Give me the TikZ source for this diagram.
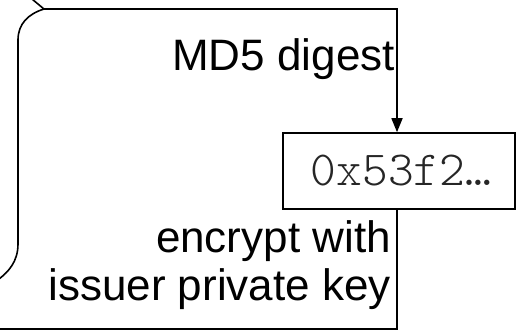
\documentclass[tikz,border=0pt]{standalone}
\usepackage{fontspec}
\setmainfont{Liberation Sans}
\newfontfamily\codefont{Latin Modern Mono Light}
\usetikzlibrary{arrows.meta}
\begin{document}
\begin{tikzpicture}[x=1pt,y=-1pt,
  wire/.style={draw=black,line width=1.6pt},
  label/.style={font=\fontsize{44}{48}\selectfont,inner sep=0pt},
  hashbox/.style={draw=black,line width=1.6pt,minimum width=232pt,minimum height=76pt,inner sep=0pt},
  code/.style={font=\codefont\fontsize{49}{52}\selectfont,text=black!85,inner sep=0pt}]
  \useasboundingbox (0,0) rectangle (518,335);

  % digest value box
  \node[hashbox] (hash) at (399,171) {};
  \node[code,anchor=base] (hashtext) at (401,185) {0x53f2…};

  % labels
  \node[label,anchor=base east] (md5) at (395,70) {MD5 digest};
  \node[label,anchor=base east] (enc1) at (391,252) {encrypt with};
  \node[label,anchor=base east] (enc2) at (391,300) {issuer private key};

  % brace-shaped left bracket
  \coordinate (bracetop) at (32,-1);
  \coordinate (bracetip) at (44,9);
  \coordinate (braceup) at (18,40);
  \coordinate (bracelow) at (18,244);
  \coordinate (braceend) at (-1,279);
  \draw[wire] (bracetop) -- (bracetip) .. controls (28,14) and (18,24) .. (braceup)
    -- (bracelow) .. controls (18,262) and (8,272) .. (braceend);

  % top connector into the box
  \coordinate (corner) at (397,9);
  \draw[wire,-{Triangle[width=11pt,length=14pt]}] (bracetip) -- (corner) -- (corner |- hash.north);

  % bottom connector out of the box
  \coordinate (lowcorner) at (397,329);
  \coordinate (leftend) at (-1,329);
  \draw[wire] (corner |- hash.south) -- (lowcorner) -- (leftend);
\end{tikzpicture}
\end{document}
